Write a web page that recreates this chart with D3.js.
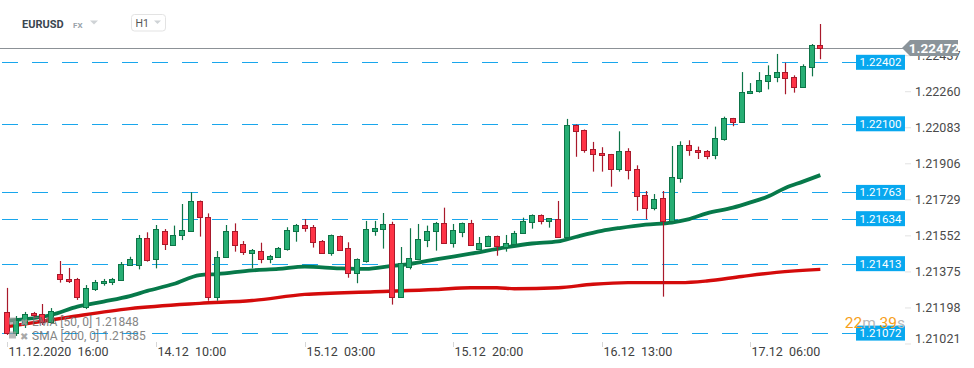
<!DOCTYPE html>
<html><head><meta charset="utf-8">
<script src="https://cdn.jsdelivr.net/npm/d3@7"></script>
<style>
html,body{margin:0;padding:0;background:#fff;overflow:hidden}
svg{display:block;font-family:Roboto,"Noto Sans",Arial,sans-serif}
</style>
</head><body>
<svg id="chart" width="974" height="368"></svg>
<script>
// ---------- data (EURUSD, H1) ----------
const opens = [1.21176,1.21073,1.21117,1.21171,1.21166,1.21127,1.21361,1.21338,1.21338,1.21202,
1.21287,1.21317,1.21323,1.21333,1.21405,1.21407,1.21538,1.21435,1.21575,1.21503,
1.21552,1.21572,1.21719,1.21644,1.21248,1.21444,1.21575,1.21508,1.21464,1.21475,
1.21435,1.21444,1.21484,1.21572,1.21602,1.21592,1.21523,1.21464,1.21548,1.21489,
1.21366,1.21428,1.21575,1.21582,1.21606,1.21248,1.21395,1.21435,1.21528,1.21572,
1.21611,1.21513,1.21567,1.21611,1.21484,1.21498,1.21548,1.21494,1.21508,1.21562,
1.21616,1.21651,1.21621,1.21631,1.21543,1.22093,1.22068,1.21975,1.21955,1.21950,
1.21877,1.21965,1.21877,1.21749,1.21685,1.21734,1.21621,1.21832,1.21994,1.21970,
1.21965,1.21945,1.22024,1.22127,1.22107,1.22250,1.22260,1.22309,1.22328,1.22353,
1.22328,1.22279,1.22377,1.22487];
const highs = [1.21294,1.21156,1.21176,1.21176,1.21215,1.21195,1.21426,1.21392,1.21343,1.21308,
1.21333,1.21338,1.21343,1.21421,1.21447,1.21554,1.21567,1.21603,1.21583,1.21600,
1.21706,1.21764,1.21723,1.21660,1.21475,1.21603,1.21611,1.21524,1.21485,1.21516,
1.21456,1.21495,1.21592,1.21608,1.21632,1.21603,1.21529,1.21556,1.21551,1.21518,
1.21439,1.21623,1.21623,1.21662,1.21619,1.21495,1.21587,1.21608,1.21600,1.21618,
1.21688,1.21608,1.21615,1.21628,1.21544,1.21551,1.21551,1.21554,1.21574,1.21639,
1.21655,1.21655,1.21637,1.21721,1.22124,1.22097,1.22072,1.22011,1.21985,1.21952,
1.22063,1.21980,1.21896,1.21770,1.21755,1.21770,1.21991,1.22014,1.22019,1.21988,
1.21971,1.22086,1.22135,1.22129,1.22354,1.22300,1.22354,1.22387,1.22443,1.22400,
1.22338,1.22392,1.22492,1.22590];
const lows = [1.21063,1.21058,1.21097,1.21146,1.21112,1.21117,1.21320,1.21318,1.21235,1.21190,
1.21279,1.21305,1.21308,1.21328,1.21402,1.21385,1.21423,1.21390,1.21480,1.21500,
1.21529,1.21569,1.21546,1.21231,1.21231,1.21441,1.21472,1.21456,1.21390,1.21415,
1.21415,1.21441,1.21477,1.21521,1.21570,1.21492,1.21461,1.21452,1.21477,1.21344,
1.21317,1.21418,1.21550,1.21487,1.21212,1.21245,1.21385,1.21431,1.21494,1.21477,
1.21510,1.21492,1.21543,1.21500,1.21480,1.21495,1.21452,1.21472,1.21505,1.21559,
1.21585,1.21606,1.21590,1.21539,1.21539,1.21938,1.21958,1.21865,1.21865,1.21791,
1.21865,1.21827,1.21673,1.21631,1.21675,1.21251,1.21618,1.21811,1.21943,1.21927,
1.21926,1.21926,1.22017,1.22088,1.22104,1.22246,1.22253,1.22269,1.22304,1.22245,
1.22253,1.22276,1.22333,1.22417];
const closes = [1.21073,1.21136,1.21166,1.21161,1.21127,1.21181,1.21336,1.21327,1.21248,1.21292,
1.21322,1.21328,1.21336,1.21411,1.21435,1.21538,1.21431,1.21582,1.21508,1.21554,
1.21578,1.21719,1.21641,1.21248,1.21447,1.21575,1.21505,1.21469,1.21479,1.21435,
1.21452,1.21489,1.21578,1.21602,1.21587,1.21518,1.21464,1.21552,1.21482,1.21366,
1.21435,1.21582,1.21587,1.21606,1.21248,1.21415,1.21439,1.21533,1.21575,1.21611,
1.21513,1.21577,1.21611,1.21503,1.21513,1.21548,1.21498,1.21513,1.21562,1.21621,
1.21651,1.21621,1.21636,1.21543,1.22093,1.22063,1.21970,1.21950,1.21945,1.21877,
1.21965,1.21872,1.21744,1.21685,1.21729,1.21621,1.21837,1.21994,1.21970,1.21960,
1.21940,1.22029,1.22127,1.22107,1.22255,1.22261,1.22314,1.22338,1.22353,1.22323,
1.22279,1.22382,1.22486,1.22472];

// EMA 50 and SMA 200 read at selected candles
const emaIdx = [0,5,8,11,14,16,19,22,24,28,31,34,38,41,44,46,49,53,57,60,63,65,68,70,73,76,78,80,83,85,87,89,91,93];
const emaVal = [1.21133,1.21161,1.21202,1.21227,1.21254,1.21279,1.21313,1.21357,1.21362,1.21380,1.21387,1.21398,1.21390,1.21387,1.21402,1.21411,1.21434,1.21462,1.21493,1.21512,1.21522,1.21544,1.21574,1.21588,1.21605,1.21615,1.21632,1.21660,1.21688,1.21714,1.21743,1.21785,1.21816,1.21848];
const smaIdx = [0,7,14,22,28,34,42,49,53,56,58,63,67,71,77,80,84,88,93];
const smaVal = [1.21104,1.21150,1.21192,1.21218,1.21232,1.21262,1.21275,1.21286,1.21295,1.21295,1.21290,1.21295,1.21312,1.21320,1.21320,1.21328,1.21350,1.21370,1.21385];

const xTickIndex = [0,17,34,51,68,85];
const xTickDates = ["11.12.2020","14.12","15.12","15.12","16.12","17.12"];
const xTickTimes = ["16:00","10:00","03:00","20:00","13:00","06:00"];
const yTickValues = [1.22437,1.22260,1.22083,1.21906,1.21729,1.21552,1.21375,1.21198,1.21021];
const levelValues = [1.22402,1.22100,1.21763,1.21634,1.21413,1.21072];
const lastPrice = 1.22472;
const symbol = "EURUSD", market = "FX", timeframe = "H1";
const emaLabel = "EMA [50, 0] 1.21848";
const smaLabel = "SMA [200, 0] 1.21385";

// ---------- drawing ----------
const svg = d3.select("#chart");
const x = d3.scaleBand().domain(d3.range(opens.length)).range([3.1, 824.7]).paddingInner(0.3).paddingOuter(0.15);
const y = d3.scaleLinear().domain([1.21072, 1.22402]).range([333.1, 62.3]);
const cx = i => x(i) + x.bandwidth() / 2;

const GREEN_FILL = "#27ae74", GREEN_LINE = "#0d7447";
const RED_FILL = "#fe3346", RED_LINE = "#a8192b";

// level dashed lines
const lv = svg.append("g");
levelValues.forEach(v => {
  const yy = Math.round(y(v)) + 0.5;
  lv.append("line").attr("x1", 2).attr("x2", 856).attr("y1", yy).attr("y2", yy)
    .attr("stroke", "#19a6ec").attr("stroke-width", 1.2).attr("stroke-dasharray", "16,14");
});

// current price line
svg.append("line").attr("x1", 0).attr("x2", 904)
  .attr("y1", Math.round(y(lastPrice)) + 0.5).attr("y2", Math.round(y(lastPrice)) + 0.5)
  .attr("stroke", "#8c9196").attr("stroke-width", 1.2);

// moving averages
const line = d3.line().x(d => cx(d[0])).y(d => y(d[1])).curve(d3.curveMonotoneX);
svg.append("path").datum(smaIdx.map((k, j) => [k, smaVal[j]]))
  .attr("d", line).attr("fill", "none").attr("stroke", "#d40b0b").attr("stroke-width", 3.4).attr("stroke-linejoin", "round");
svg.append("path").datum(emaIdx.map((k, j) => [k, emaVal[j]]))
  .attr("d", line).attr("fill", "none").attr("stroke", "#07794a").attr("stroke-width", 3.8).attr("stroke-linejoin", "round");

// candles
const cg = svg.append("g");
opens.forEach((o, i) => {
  const c = closes[i], up = c >= o;
  const xc = Math.round(cx(i)) + 0.5;
  cg.append("line").attr("x1", xc).attr("x2", xc)
    .attr("y1", y(highs[i])).attr("y2", y(lows[i]))
    .attr("stroke", up ? GREEN_LINE : RED_LINE).attr("stroke-width", 1.2);
  const top = Math.round(y(Math.max(o, c))), bot = Math.round(y(Math.min(o, c)));
  const h = Math.max(2, bot - top);
  cg.append("rect").attr("x", Math.round(x(i)) + 0.5).attr("y", top + 0.5)
    .attr("width", Math.round(x.bandwidth()) - 1).attr("height", h)
    .attr("fill", up ? GREEN_FILL : RED_FILL).attr("stroke", up ? GREEN_LINE : RED_LINE).attr("stroke-width", 1);
});

// x axis ticks and labels
const xa = svg.append("g");
xTickIndex.forEach((k, j) => {
  const xx = Math.round(cx(k)) + 0.5;
  xa.append("line").attr("x1", xx).attr("x2", xx).attr("y1", 342).attr("y2", 347).attr("stroke", "#d6d6d6");
  xa.append("text").attr("x", xx + 1).attr("y", 356).attr("fill", "#404040").attr("font-size", "12.5px")
    .style("white-space", "pre").text(xTickDates[j] + "  " + xTickTimes[j]);
});

// right axis
const ya = svg.append("g").attr("transform", "translate(905,0)")
  .call(d3.axisRight(y).tickValues(yTickValues).tickFormat(d3.format(".5f")).tickSize(6).tickPadding(4));
ya.select(".domain").remove();
ya.selectAll(".tick line").attr("stroke", "#e2e2e2");
ya.selectAll(".tick text").attr("fill", "#4a4a4a").attr("font-size", "12.5px")
  .attr("font-family", "Roboto, 'Noto Sans', sans-serif")
  .attr("y", d => Math.min(0, 338 - y(d)));

// level labels
levelValues.forEach(v => {
  const yy = y(v);
  svg.append("rect").attr("x", 856).attr("y", yy - 7.5).attr("width", 49).attr("height", 15).attr("fill", "#08a8ef");
  svg.append("text").attr("x", 880.5).attr("y", yy + 4).attr("text-anchor", "middle")
    .attr("fill", "#fff").attr("font-size", "11.5px").text(d3.format(".5f")(v));
});

// current price tag
const py = y(lastPrice);
svg.append("path").attr("d", `M902,${py} L910,${py - 8} L958,${py - 8} L958,${py + 8} L910,${py + 8} Z`).attr("fill", "#8b949a");
svg.append("text").attr("x", 934).attr("y", py + 5).attr("text-anchor", "middle").attr("fill", "#fff")
  .attr("font-size", "13.5px").attr("font-weight", "bold").text(d3.format(".5f")(lastPrice));

// countdown
const cd = svg.append("text").attr("x", 905).attr("y", 328).attr("text-anchor", "end").attr("font-size", "15.5px");
cd.append("tspan").attr("fill", "#f6a01a").text("22");
cd.append("tspan").attr("fill", "#b8b8b8").text("m ");
cd.append("tspan").attr("fill", "#f6a01a").text("39");
cd.append("tspan").attr("fill", "#b8b8b8").text("s");

// legend
const lg = svg.append("g").attr("opacity", 0.85);
[[emaLabel, 325.5], [smaLabel, 339.5]].forEach(([t, yy], j) => {
  lg.append("rect").attr("x", 9).attr("y", yy - 8).attr("width", 7).attr("height", 7).attr("fill", "#9a9a9a").attr("opacity", 0.8);
  lg.append("text").attr("x", 20).attr("y", yy).attr("font-size", "10px").attr("fill", "#9a9a9a").text("✖");
  lg.append("text").attr("x", 32).attr("y", yy).attr("font-size", "12px").attr("fill", "#707070").text(t);
});

// header
svg.append("text").attr("x", 22).attr("y", 27.5).attr("font-size", "11px").attr("font-weight", "bold").attr("fill", "#3a4650").text(symbol);
svg.append("text").attr("x", 73).attr("y", 27.5).attr("font-size", "8px").attr("font-weight", "bold").attr("fill", "#9aa3aa").text(market);
svg.append("path").attr("d", "M90,20.5 L98,20.5 L94,24.5 Z").attr("fill", "#cfd3d6");
svg.append("rect").attr("x", 131.5).attr("y", 14.5).attr("width", 34).attr("height", 16.5).attr("rx", 3)
  .attr("fill", "#fff").attr("stroke", "#e3e3e3");
svg.append("text").attr("x", 135.5).attr("y", 27).attr("font-size", "10.5px").attr("fill", "#555").text(timeframe);
svg.append("path").attr("d", "M154,20.5 L161,20.5 L157.5,24 Z").attr("fill", "#cfd3d6");
</script>
</body></html>
